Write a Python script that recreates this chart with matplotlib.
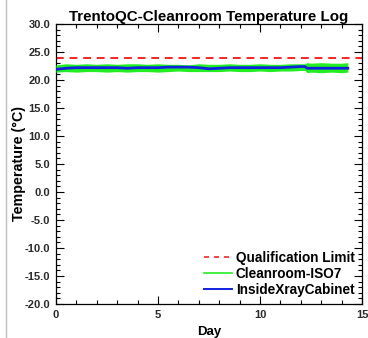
import matplotlib
matplotlib.use("Agg")
import matplotlib.pyplot as plt
from matplotlib.lines import Line2D
from matplotlib.ticker import MultipleLocator, FormatStrFormatter

plt.rcParams['font.family'] = ['Liberation Sans', 'DejaVu Sans']
plt.rcParams['font.weight'] = 'bold'

# Logged temperatures (degrees C) versus elapsed time in days
days = [0.0, 0.5, 1.0, 1.5, 2.0, 2.5, 3.0, 3.5, 4.0, 4.5, 5.0, 5.5, 6.0,
        6.5, 7.0, 7.5, 8.0, 8.5, 9.0, 9.5, 10.0, 10.5, 11.0, 11.5, 12.0,
        12.2, 12.3, 12.5, 13.0, 13.5, 14.0, 14.3]
cabinet = [21.9, 22.1, 22.2, 22.2, 22.2, 22.2, 22.2, 22.1, 22.2, 22.2, 22.2,
           22.3, 22.3, 22.3, 22.2, 22.0, 22.1, 22.2, 22.2, 22.2, 22.2, 22.2,
           22.2, 22.3, 22.4, 22.4, 22.1, 22.1, 22.1, 22.1, 22.1, 22.1]
cleanroom_hi = [22.7, 22.9, 22.8, 22.9, 22.8, 22.9, 22.8, 22.9, 22.9, 22.8,
                22.9, 22.8, 22.8, 22.7, 22.9, 22.8, 22.8, 22.9, 22.8, 22.8,
                22.9, 22.8, 22.8, 22.9, 22.9, 22.9, 23.1, 23.0, 23.1, 23.0,
                23.0, 23.1]
cleanroom_lo = [21.4, 21.5, 21.4, 21.5, 21.5, 21.4, 21.5, 21.4, 21.5, 21.5,
                21.4, 21.5, 21.6, 21.5, 21.5, 21.5, 21.5, 21.6, 21.5, 21.5,
                21.6, 21.5, 21.6, 21.6, 21.7, 21.7, 21.3, 21.4, 21.3, 21.4,
                21.3, 21.4]
qualification_limit = 24.0

fig = plt.figure(figsize=(3.68, 3.38), dpi=100)
ax = fig.add_axes([0.152, 0.1006, 0.832, 0.8284])

red, green, blue = '#ff2020', '#22ee22', '#1020e0'
ax.axhline(qualification_limit, color=red, lw=1.4, ls=(0, (4, 3)), zorder=2)
ax.fill_between(days, cleanroom_lo, cleanroom_hi, color=green, lw=0,
                zorder=3)
ax.plot(days, cabinet, color=blue, lw=2.0, zorder=4)

ax.set_xlim(0, 15)
ax.set_ylim(-20, 30)
ax.xaxis.set_major_locator(MultipleLocator(5))
ax.xaxis.set_minor_locator(MultipleLocator(1))
ax.yaxis.set_major_locator(MultipleLocator(5))
ax.yaxis.set_minor_locator(MultipleLocator(1))
ax.yaxis.set_major_formatter(FormatStrFormatter('%.1f'))
ax.tick_params(which='both', direction='in', top=True, right=True,
               labelsize=8, labelcolor='#2a2a2a', width=0.8, pad=4)
ax.tick_params(which='major', length=6)
ax.tick_params(which='minor', length=3.2)
for s in ax.spines.values():
    s.set_linewidth(0.9)

ax.set_title('TrentoQC-Cleanroom Temperature Log', fontsize=10.9,
             fontweight='bold', pad=1)
ax.set_xlabel('Day', fontsize=9.5, fontweight='bold', labelpad=5)
ax.set_ylabel('Temperature (°C)', fontsize=10.3, fontweight='bold')
ax.yaxis.set_label_coords(-0.098, 0.5)

handles = [Line2D([], [], color=red, lw=1.2, ls=(0, (3, 3))),
           Line2D([], [], color=green, lw=1.2),
           Line2D([], [], color=blue, lw=1.4)]
labels = ['Qualification Limit', 'Cleanroom-ISO7', 'InsideXrayCabinet']
ax.legend(handles, labels, loc='lower right', frameon=False,
          handlelength=2.0, handletextpad=0.3, labelspacing=0.12,
          borderaxespad=0.15, prop={'weight': 'bold', 'size': 9.8})

fig.add_artist(Line2D([6 / 368, 6 / 368], [0, 1], color='#c0c0c0', lw=1.0))

fig.savefig('out.png', dpi=100)
